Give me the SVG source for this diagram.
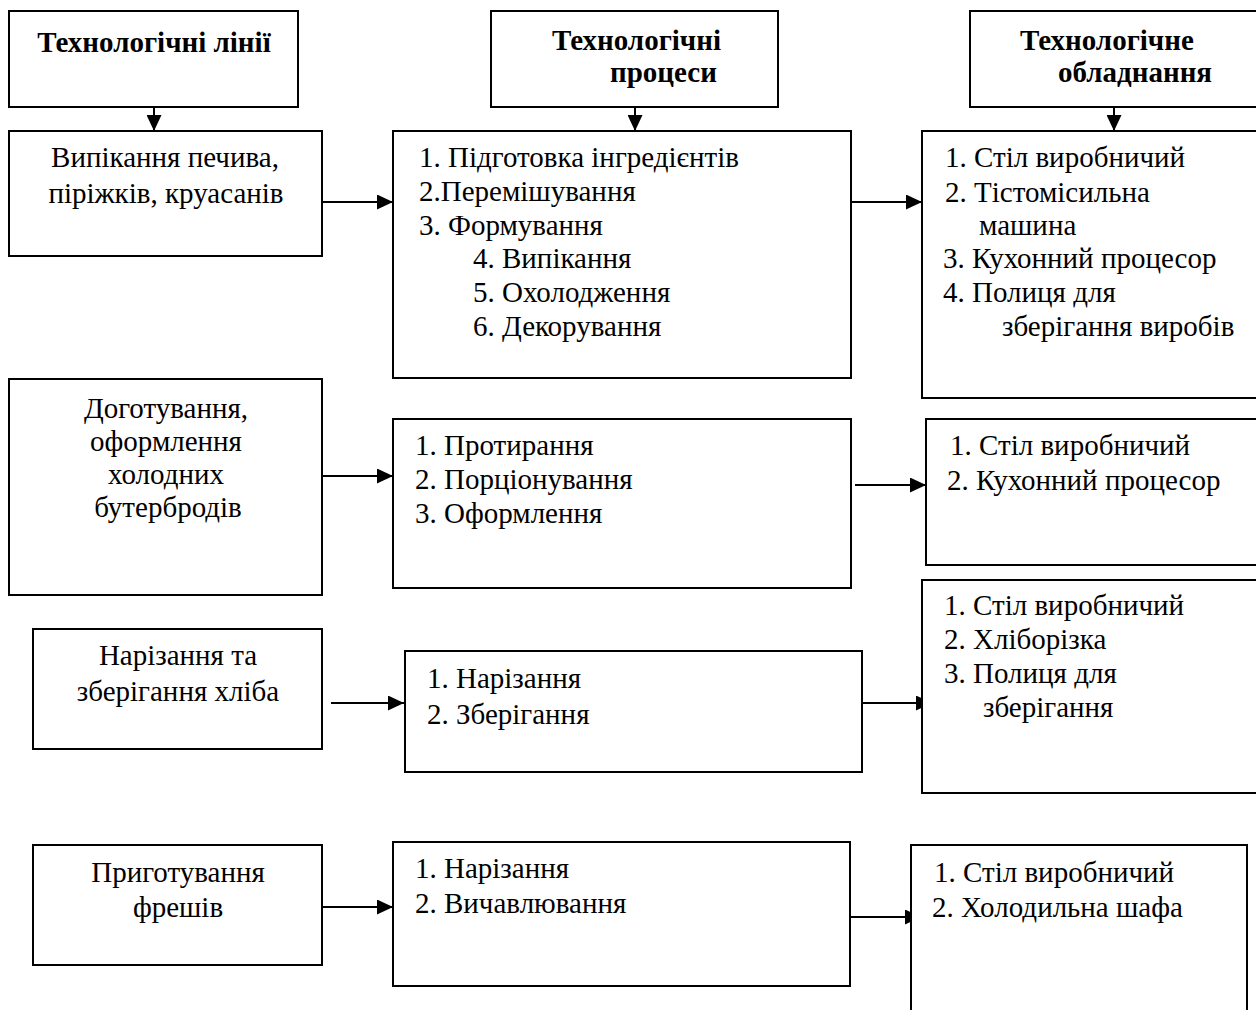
<svg xmlns="http://www.w3.org/2000/svg" width="1256" height="1010" viewBox="0 0 1256 1010">
<defs>
<style>
.box{fill:#fff;stroke:#000;stroke-width:2}
.t{font-family:"Liberation Serif","Times New Roman",serif;font-size:29px;fill:#000}
.h{font-family:"Liberation Serif","Times New Roman",serif;font-size:29px;font-weight:bold;fill:#000}
.c{text-anchor:middle}
.ln{fill:none;stroke:#000;stroke-width:2;marker-end:url(#ah)}
</style>
<marker id="ah" markerUnits="userSpaceOnUse" markerWidth="16" markerHeight="15" refX="16" refY="7.5" orient="auto">
<path d="M0,0 L16,7.5 L0,15 z" fill="#000"/>
</marker>
</defs>
<rect width="1256" height="1010" fill="#fff"/>

<g id="connectors">
<path class="ln" d="M154,107 V131"/>
<path class="ln" d="M635,107 V131"/>
<path class="ln" d="M1114,107 V131"/>
<path class="ln" d="M322,202 H393"/>
<path class="ln" d="M851,202 H922"/>
<path class="ln" d="M322,476 H393"/>
<path class="ln" d="M855,485 H926"/>
<path class="ln" d="M331,703 H404"/>
<path class="ln" d="M862,703 H932"/>
<path class="ln" d="M322,907 H393"/>
<path class="ln" d="M850,917 H921"/>
</g>

<g id="h-lines">
<rect class="box" x="9" y="11" width="289" height="96"/>
<text class="h c" x="154" y="52">Технологічні лінії</text>
</g>
<g id="h-processes">
<rect class="box" x="491" y="11" width="287" height="96"/>
<text class="h" x="552" y="50">Технологічні</text>
<text class="h" x="610" y="82">процеси</text>
</g>
<g id="h-equipment">
<rect class="box" x="970" y="11" width="300" height="96"/>
<text class="h" x="1020" y="50">Технологічне</text>
<text class="h" x="1058" y="82">обладнання</text>
</g>

<g id="line-1">
<rect class="box" x="9" y="131" width="313" height="125"/>
<text class="t c" x="165" y="167">Випікання печива,</text>
<text class="t c" x="166" y="203">піріжків, круасанів</text>
</g>
<g id="proc-1">
<rect class="box" x="393" y="131" width="458" height="247"/>
<text class="t" x="419" y="167">1. Підготовка інгредієнтів</text>
<text class="t" x="419" y="201">2.Перемішування</text>
<text class="t" x="419" y="235">3. Формування</text>
<text class="t" x="473" y="268">4. Випікання</text>
<text class="t" x="473" y="302">5. Охолодження</text>
<text class="t" x="473" y="336">6. Декорування</text>
</g>
<g id="equip-1">
<rect class="box" x="922" y="131" width="348" height="267"/>
<text class="t" x="945" y="167">1. Стіл виробничий</text>
<text class="t" x="945" y="202">2. Тістомісильна</text>
<text class="t" x="979" y="235">машина</text>
<text class="t" x="943" y="268">3. Кухонний процесор</text>
<text class="t" x="943" y="302">4. Полиця для</text>
<text class="t" x="1002" y="336">зберігання виробів</text>
</g>

<g id="line-2">
<rect class="box" x="9" y="379" width="313" height="216"/>
<text class="t c" x="166" y="418">Доготування,</text>
<text class="t c" x="166" y="451">оформлення</text>
<text class="t c" x="166" y="484">холодних</text>
<text class="t c" x="168" y="517">бутербродів</text>
</g>
<g id="proc-2">
<rect class="box" x="393" y="419" width="458" height="169"/>
<text class="t" x="415" y="455">1. Протирання</text>
<text class="t" x="415" y="489">2. Порціонування</text>
<text class="t" x="415" y="523">3. Оформлення</text>
</g>
<g id="equip-2">
<rect class="box" x="926" y="419" width="344" height="146"/>
<text class="t" x="950" y="455">1. Стіл виробничий</text>
<text class="t" x="947" y="490">2. Кухонний процесор</text>
</g>

<g id="line-3">
<rect class="box" x="33" y="629" width="289" height="120"/>
<text class="t c" x="178" y="665">Нарізання та</text>
<text class="t c" x="178" y="701">зберігання хліба</text>
</g>
<g id="proc-3">
<rect class="box" x="405" y="651" width="457" height="121"/>
<text class="t" x="427" y="688">1. Нарізання</text>
<text class="t" x="427" y="724">2. Зберігання</text>
</g>
<g id="equip-3">
<rect class="box" x="922" y="580" width="348" height="213"/>
<text class="t" x="944" y="615">1. Стіл виробничий</text>
<text class="t" x="944" y="649">2. Хліборізка</text>
<text class="t" x="944" y="683">3. Полиця для</text>
<text class="t" x="983" y="717">зберігання</text>
</g>

<g id="line-4">
<rect class="box" x="33" y="845" width="289" height="120"/>
<text class="t c" x="178" y="882">Приготування</text>
<text class="t c" x="178" y="917">фрешів</text>
</g>
<g id="proc-4">
<rect class="box" x="393" y="842" width="457" height="144"/>
<text class="t" x="415" y="878">1. Нарізання</text>
<text class="t" x="415" y="913">2. Вичавлювання</text>
</g>
<g id="equip-4">
<rect class="box" x="911" y="845" width="336" height="180"/>
<text class="t" x="934" y="882">1. Стіл виробничий</text>
<text class="t" x="932" y="917">2. Холодильна шафа</text>
</g>
</svg>
